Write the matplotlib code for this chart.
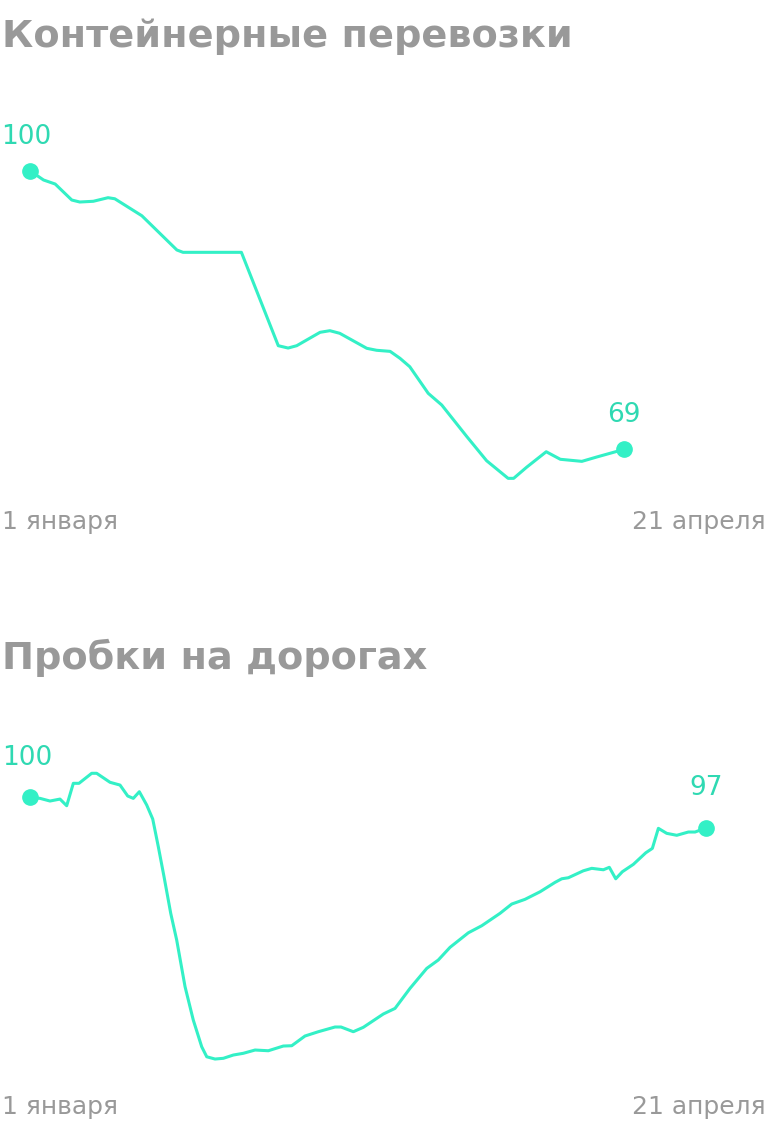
import matplotlib
matplotlib.use("Agg")
import matplotlib.pyplot as plt

# ---- data ----
container_days = [0, 2.2, 4.1, 6.8, 8.1, 10.3, 12.7, 13.8, 18.2, 23.9, 24.9, 34.4, 40.4, 42.0,
                  43.4, 47.2, 48.8, 50.4, 54.8, 56.4, 58.6, 60.2, 61.8, 64.8, 67.0, 71.1, 74.3,
                  77.8, 78.7, 80.8, 84.0, 86.3, 89.8, 92.2, 96.7]
container_vals = [100, 98.97, 98.52, 96.74, 96.52, 96.60, 97.00, 96.88, 94.99, 91.18, 90.92,
                  90.92, 80.53, 80.27, 80.53, 82.02, 82.20, 81.91, 80.24, 80.02, 79.90, 79.13,
                  78.19, 75.23, 73.93, 70.40, 67.73, 65.77, 65.77, 67.00, 68.73, 67.89, 67.66,
                  68.14, 69.0]

traffic_days = [0, 1.63, 3.25, 4.88, 5.97, 7.05, 7.97, 10.04, 10.85, 13.02, 14.65, 15.90, 16.81,
                17.79, 18.99, 19.97, 20.88, 21.81, 22.90, 23.87, 25.23, 26.57, 27.94, 28.76,
                30.11, 31.46, 33.08, 34.71, 36.62, 38.78, 41.22, 42.59, 44.75, 46.92, 49.63,
                50.61, 52.61, 54.24, 57.49, 59.40, 61.84, 64.56, 66.44, 68.35, 71.33, 73.51,
                76.48, 78.39, 80.55, 83.0, 85.44, 86.53, 87.60, 90.04, 91.41, 93.30, 94.27,
                95.31, 96.39, 98.18, 100.20, 101.27, 102.25, 103.61, 105.24, 107.13, 108.22, 110]
traffic_vals = [100, 99.90, 99.64, 99.83, 99.18, 101.37, 101.37, 102.35, 102.35, 101.47, 101.20,
                100.13, 99.90, 100.55, 99.25, 97.88, 95.17, 92.24, 88.66, 86.05, 81.49, 78.23,
                75.62, 74.64, 74.42, 74.49, 74.81, 74.98, 75.30, 75.23, 75.69, 75.72, 76.67,
                77.09, 77.55, 77.55, 77.09, 77.52, 78.82, 79.37, 81.33, 83.28, 84.10, 85.34,
                86.76, 87.45, 88.66, 89.57, 90.03, 90.77, 91.69, 92.04, 92.14, 92.82, 93.06,
                92.92, 93.16, 92.04, 92.73, 93.45, 94.58, 95.01, 96.97, 96.48, 96.29, 96.61,
                96.61, 97.0]

titles = ["Контейнерные перевозки", "Пробки на дорогах"]
start_label = "1 января"
end_label = "21 апреля"
start_vals = ["100", "100"]
end_vals = ["69", "97"]

LINE = "#33f0c6"
NUM = "#2fd9b2"
GRAY = "#999999"
FONT = "DejaVu Sans"

W, H = 768, 1126
fig = plt.figure(figsize=(W / 100, H / 100), dpi=100)
fig.patch.set_facecolor("white")


def px_axes(x0, y0, x1, y1):
    return fig.add_axes([x0 / W, 1 - y1 / H, (x1 - x0) / W, (y1 - y0) / H])


panels = [
    dict(days=container_days, vals=container_vals, box=(30, 140, 706, 500),
         ylim=(63.36, 103.42), title_y=47, date_y=522, sx=-4, sy=34, ey=34),
    dict(days=traffic_days, vals=traffic_vals, box=(30, 760, 706, 1080),
         ylim=(72.37, 103.65), title_y=669, date_y=1107, sx=-3, sy=39, ey=40),
]

for i, p in enumerate(panels):
    ax = px_axes(*p["box"])
    ax.set_xlim(0, 110)
    ax.set_ylim(*p["ylim"])
    ax.axis("off")
    ax.plot(p["days"], p["vals"], color=LINE, lw=2.2, solid_joinstyle="round",
            solid_capstyle="round", clip_on=False)
    ax.plot([p["days"][0], p["days"][-1]], [p["vals"][0], p["vals"][-1]], "o",
            color=LINE, ms=11, clip_on=False)
    ax.annotate(start_vals[i], (p["days"][0], p["vals"][0]), xytext=(p["sx"], p["sy"]),
                textcoords="offset pixels", ha="center", va="center", fontsize=19,
                color=NUM, family=FONT)
    ax.annotate(end_vals[i], (p["days"][-1], p["vals"][-1]), xytext=(0, p["ey"]),
                textcoords="offset pixels", ha="center", va="center", fontsize=19,
                color=NUM, family=FONT)
    fig.text(2 / W, 1 - p["title_y"] / H, titles[i], fontsize=27.5, fontweight="bold",
             color=GRAY, family=FONT, ha="left", va="baseline")
    fig.text(2 / W, 1 - p["date_y"] / H, start_label, fontsize=18, color=GRAY,
             family=FONT, ha="left", va="center")
    fig.text(766 / W, 1 - p["date_y"] / H, end_label, fontsize=18, color=GRAY,
             family=FONT, ha="right", va="center")

fig.savefig("out.png", dpi=100, facecolor="white")
